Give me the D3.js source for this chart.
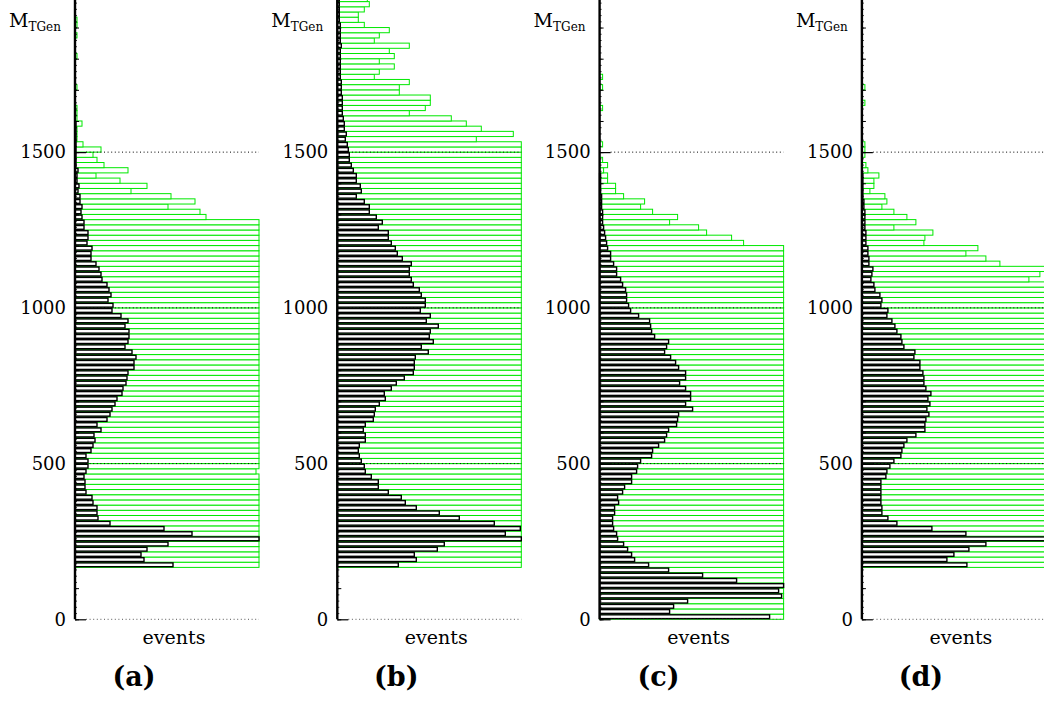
<!DOCTYPE html>
<html>
<head>
<meta charset="utf-8">
<script src="https://cdn.jsdelivr.net/npm/d3@7"></script>
<style>
  body { margin: 0; background: #fff; }
  svg { display: block; }
  text { font-family: "DejaVu Serif", serif; fill: #000; }
</style>
</head>
<body>
<script>
// M_TGen histograms: 120 bins from 0 to 2000, one panel per sample
const massMax = 2000, nBins = 120;
const yTicks = [0, 500, 1000, 1500];
const panelNames = ["(a)", "(b)", "(c)", "(d)"];
const eventsMax = 184; // frame edge, longer bars are clipped

// black histograms (events per bin, bins 0..119)
const blackA = [
  0,0,0,0,0,0,0,0,0,0,
  98,69,66,72,93,184,117,89,35,23,
  22,22,18,17,11,10,10,9,11,13,
  13,11,16,18,20,19,26,22,32,35,
  37,40,42,47,48,51,52,53,59,59,
  61,57,50,53,54,54,50,53,46,37,
  38,33,36,34,32,27,26,24,21,16,
  16,17,12,13,13,9,9,7,6,7,
  5,5,3,4,2,2,3,1,1,1,
  1,1,1,1,1,1,0,0,0,0,
  0,0,0,0,0,0,0,0,0,0,
  0,0,0,0,0,0,0,0,0,0
];
const blackB = [
  0,0,0,0,0,0,0,0,0,0,
  61,79,77,100,107,185,168,183,157,122,
  102,79,68,64,51,41,41,34,28,27,
  24,22,21,22,28,28,26,28,36,37,
  38,42,48,47,54,59,67,76,77,77,
  78,91,84,96,92,93,101,89,93,83,
  88,88,84,82,76,74,72,72,74,65,
  60,58,54,51,51,41,45,39,32,32,
  27,19,24,23,19,19,16,14,12,12,
  11,10,8,9,7,7,6,5,5,5,
  5,4,4,4,3,3,3,3,3,3,
  4,3,3,3,3,2,2,2,2,2
];
const blackC = [
  170,70,74,88,182,179,184,137,103,69,
  49,35,32,28,24,18,17,14,13,13,
  15,15,19,18,23,25,32,32,37,38,
  41,52,53,59,65,67,69,77,78,79,
  93,86,91,91,86,80,86,86,79,76,
  71,65,67,69,55,52,51,50,39,31,
  29,27,27,26,23,21,17,17,14,11,
  11,8,7,6,5,4,3,3,3,2,
  2,2,1,1,1,1,0,0,0,0,
  0,0,0,0,0,0,0,0,0,0,
  0,0,0,0,0,0,0,0,0,0,
  0,0,0,0,0,0,0,0,0,0
];
const blackD = [
  0,0,0,0,0,0,0,0,0,0,
  105,85,92,107,124,200,104,70,35,26,
  20,20,19,19,19,19,19,24,25,28,
  32,39,40,42,45,54,63,63,64,67,
  65,68,66,69,64,62,62,61,58,58,
  52,53,42,40,39,35,33,30,25,26,
  19,20,18,13,12,9,10,11,7,7,
  6,6,4,4,4,3,3,3,3,2,
  2,1,1,1,1,1,0,0,0,0,
  0,0,0,0,0,0,0,0,0,0,
  0,0,0,0,0,0,0,0,0,0,
  0,0,0,0,0,0,0,0,0,0
];

// green histograms (scaled up, clipped at the frame edge)
const greenA = [
  0,0,0,0,0,0,0,0,0,0,
  200,200,200,200,200,200,200,200,200,200,
  200,200,200,200,200,200,200,200,181,200,
  200,200,200,200,200,200,200,200,200,200,
  200,200,200,200,200,200,200,200,200,200,
  200,200,200,200,200,200,200,200,200,200,
  200,200,200,200,200,200,200,200,200,200,
  200,200,200,200,200,200,200,131,125,93,
  120,96,56,72,45,21,53,29,22,18,
  26,8,2,2,2,7,2,2,2,0,
  0,0,2,0,0,0,0,0,2,0,
  0,0,2,0,2,2,0,0,0,0
];
const greenB = [
  0,0,0,0,0,0,0,0,0,0,
  200,200,200,200,200,200,200,200,200,200,
  200,200,200,200,200,200,200,200,200,200,
  200,200,200,200,200,200,200,200,200,200,
  200,200,200,200,200,200,200,200,200,200,
  200,200,200,200,200,200,200,200,200,200,
  200,200,200,200,200,200,200,200,200,200,
  200,200,200,200,200,200,200,200,200,200,
  200,200,200,200,200,200,200,200,200,200,
  200,200,139,176,144,129,114,72,88,93,
  93,62,62,72,37,42,57,42,57,52,
  72,37,42,52,27,21,21,27,32,30
];
const greenC = [
  200,200,200,200,200,200,200,200,200,200,
  200,200,200,200,200,200,200,200,200,200,
  200,200,200,200,200,200,200,200,200,200,
  200,200,200,200,200,200,200,200,200,200,
  200,200,200,200,200,200,200,200,200,200,
  200,200,200,200,200,200,200,200,200,200,
  200,200,200,200,200,200,200,200,200,200,
  200,200,144,132,107,99,70,78,53,41,
  45,24,16,16,8,8,4,8,3,0,
  0,3,0,0,0,0,0,0,3,0,
  0,0,3,0,3,0,0,0,0,0,
  0,0,0,0,0,0,0,0,0,0
];
const greenD = [
  0,0,0,0,0,0,0,0,0,0,
  200,200,200,200,200,200,200,200,200,200,
  200,200,200,200,200,200,200,200,200,200,
  200,200,200,200,200,200,200,200,200,200,
  200,200,200,200,200,200,200,200,200,200,
  200,200,200,200,200,200,200,200,200,200,
  200,200,200,200,200,167,178,200,138,124,
  104,116,62,63,71,32,54,45,32,20,
  25,23,8,12,12,17,6,4,0,3,
  3,3,0,0,0,0,0,0,0,3,
  0,0,3,0,0,0,0,0,0,0,
  0,0,0,0,0,0,0,0,0,0
];

const panels = [
  { black: blackA, green: greenA },
  { black: blackB, green: greenB },
  { black: blackC, green: greenC },
  { black: blackD, green: greenD }
];

const width = 1044, height = 702;
const binW = massMax / nBins;

const svg = d3.select("body").append("svg")
  .attr("width", width)
  .attr("height", height);

const y = d3.scaleLinear().domain([0, massMax]).range([619.3, -3.6]);
const x = d3.scaleLinear().domain([0, eventsMax]).range([0, 184]).clamp(true);

panels.forEach(function (p, k) {
  const g = svg.append("g").attr("transform", "translate(" + (75 + k * 262.3) + ",0)");

  const binsOf = arr => arr.map((v, i) => ({ i: i, v: v })).filter(d => d.v > 0);

  // green bars underneath
  g.selectAll(".green").data(binsOf(p.green)).join("rect")
    .attr("class", "green")
    .attr("x", 0)
    .attr("y", d => y((d.i + 1) * binW))
    .attr("width", d => x(d.v))
    .attr("height", d => y(d.i * binW) - y((d.i + 1) * binW))
    .attr("fill", "#fff")
    .attr("stroke", "#00e800")
    .attr("stroke-width", 1);

  // black bars on top
  g.selectAll(".black").data(binsOf(p.black)).join("rect")
    .attr("class", "black")
    .attr("x", 0)
    .attr("y", d => y((d.i + 1) * binW) + 0.7)
    .attr("width", d => x(d.v))
    .attr("height", d => y(d.i * binW) - y((d.i + 1) * binW) - 1.4)
    .attr("fill", "#fff")
    .attr("stroke", "#000")
    .attr("stroke-width", 1.4);

  // dotted reference lines at the labelled masses
  g.selectAll(".grid").data(yTicks).join("line")
    .attr("class", "grid")
    .attr("x1", 11).attr("x2", 184)
    .attr("y1", d => y(d)).attr("y2", d => y(d))
    .attr("stroke", d => d === 0 ? "#555" : "#000")
    .attr("stroke-width", 1)
    .attr("stroke-dasharray", "1,2.6");

  // small ticks along the axis
  g.append("g")
    .call(d3.axisRight(y).tickValues(d3.range(0, massMax + 1, 20)).tickSize(2).tickFormat(""))
    .call(a => a.select(".domain").remove())
    .selectAll("line").attr("stroke-width", 0.8);
  g.append("g")
    .call(d3.axisRight(y).tickValues(d3.range(0, massMax + 1, 100)).tickSize(4).tickFormat(""))
    .call(a => a.select(".domain").remove())
    .selectAll("line").attr("stroke-width", 1);
  g.append("g")
    .call(d3.axisRight(y).tickValues(yTicks).tickSize(11).tickFormat(""))
    .call(a => a.select(".domain").remove())
    .selectAll("line").attr("stroke-width", 1.2);

  // tick labels
  const left = g.append("g")
    .call(d3.axisLeft(y).tickValues(yTicks).tickSize(0).tickPadding(9).tickFormat(d3.format("d")));
  left.select(".domain").remove();
  left.selectAll("text")
    .style("font-family", "DejaVu Serif")
    .style("font-size", "18px");

  // vertical axis line
  g.append("line")
    .attr("x1", 0).attr("x2", 0)
    .attr("y1", y(0)).attr("y2", -5)
    .attr("stroke", "#000")
    .attr("stroke-width", 2.4);

  // axis titles
  const t = g.append("text").attr("x", -66).attr("y", 27);
  t.append("tspan").style("font-size", "19px").text("M");
  t.append("tspan").style("font-size", "12px").attr("dy", 4).text("TGen");

  g.append("text")
    .attr("x", 99).attr("y", 644)
    .attr("text-anchor", "middle")
    .style("font-size", "19px")
    .text("events");

  g.append("text")
    .attr("x", 59).attr("y", 686)
    .attr("text-anchor", "middle")
    .style("font-size", "27px")
    .style("font-weight", "bold")
    .text(panelNames[k]);
});
</script>
</body>
</html>
